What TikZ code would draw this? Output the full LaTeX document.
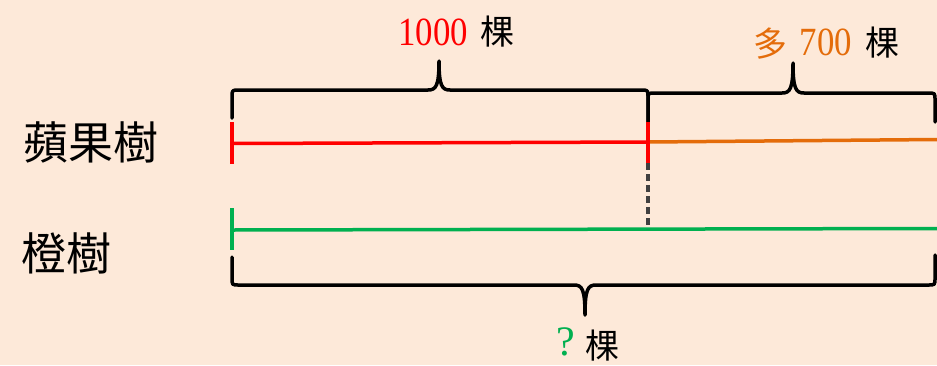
\documentclass[tikz,border=0pt]{standalone}
\usepackage{fontspec}
\usepackage{graphicx}
\setmainfont{Liberation Serif}
\newfontfamily\cjk{Noto Sans CJK TC}
\definecolor{bgpeach}{HTML}{FDE9D9}
\definecolor{appred}{HTML}{FF0000}
\definecolor{orgorange}{HTML}{E46C0A}
\definecolor{orggreen}{HTML}{00B050}
\definecolor{dashgray}{HTML}{404040}
\begin{document}
\begin{tikzpicture}[x=1pt,y=-1pt,
  bracestyle/.style={draw=black,line width=3.5pt,line join=round,line cap=round},
  barline/.style={line width=3.5pt},
  tickline/.style={line width=4pt},
  numlabel/.style={inner sep=0pt,font=\fontsize{40}{40}\selectfont},
  unitlabel/.style={inner sep=0pt,font=\cjk\fontsize{34}{34}\selectfont},
  rowlabel/.style={inner sep=0pt,font=\cjk\fontsize{45}{45}\selectfont}]
\fill[bgpeach] (0,0) rectangle (937,365);
\useasboundingbox (0,0) rectangle (937,365);

% coordinates
\coordinate (rL) at (232,143.5);
\coordinate (rR) at (648,142);
\coordinate (oR) at (937,139.5);
\coordinate (gL) at (232,230);
\coordinate (gM) at (648,229);
\coordinate (gR) at (937,228.5);
\coordinate (rT1) at (232,122);
\coordinate (rB1) at (232,164);
\coordinate (rT2) at (648,122);
\coordinate (rB2) at (648,163);
\coordinate (gT) at (232,208);
\coordinate (gB) at (232,250);

% braces
\path[bracestyle] (232,118) -- (232,97) .. controls (232,90) .. (239,90) -- (428,90)
  .. controls (436,90) and (439,86) .. (439,61) .. controls (439,86) and (442,90) .. (450,90)
  -- (641,90) .. controls (648,90) .. (648,97) -- (648,122);
\path[bracestyle] (648,122) -- (648,100) .. controls (648,93) .. (655,93) -- (782,93)
  .. controls (790,93) and (793,89) .. (793,63) .. controls (793,89) and (796,93) .. (804,93)
  -- (928,93) .. controls (935,93) .. (935,100) -- (935,122);
\path[bracestyle] (232,257) -- (232,278) .. controls (232,285) .. (239,285) -- (574,285)
  .. controls (582,285) and (585,289) .. (585,315) .. controls (585,289) and (588,285) .. (596,285)
  -- (928,285) .. controls (935,285) .. (935,278) -- (935,255);

% bars
\draw[barline,orgorange] (rR) -- (oR);
\draw[barline,appred] (rL) -- (rR);
\draw[barline,orggreen] (gL) -- (gR);
\draw[tickline,appred] (rT1) -- (rB1);
\draw[tickline,appred] (rT2) -- (rB2);
\draw[tickline,orggreen] (gT) -- (gB);
\draw[line width=3.5pt,dashgray,dash pattern=on 7pt off 4pt] (rB2) -- (gM);

% labels
\node[numlabel,text=appred] (n1000) at (433,32) {\scalebox{0.87}[1]{1000}};
\node[unitlabel] (u1000) at (497,32) {棵};
\node[unitlabel,text=orgorange] (more) at (770,44) {多};
\node[numlabel,text=orgorange] (n700) at (826,42) {\scalebox{0.87}[1]{700}};
\node[unitlabel] (u700) at (882,43) {棵};
\node[numlabel,text=orggreen,font=\fontsize{42}{42}\selectfont,anchor=base,text depth=0pt] (qmark) at (566,355) {?};
\node[unitlabel,anchor=base,text depth=0pt] (uq) at (602,358) {棵};
\node[rowlabel] (apple) at (91,142) {蘋果樹};
\node[rowlabel] (orange) at (66,253) {橙樹};
\end{tikzpicture}
\end{document}
